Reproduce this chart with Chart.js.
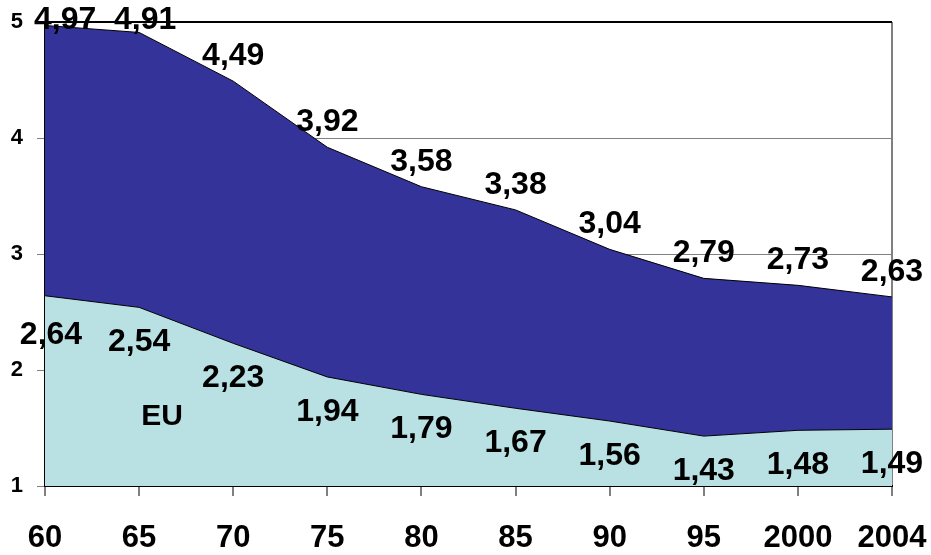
<!DOCTYPE html>
<html>
<head>
<meta charset="utf-8">
<script src="https://cdn.jsdelivr.net/npm/chart.js@4.4.1/dist/chart.umd.min.js"></script>
<style>
html,body{margin:0;padding:0;background:#fff;}
#wrap{width:931px;height:555px;position:relative;}
</style>
</head>
<body>
<div id="wrap"><canvas id="c"></canvas></div>
<script>
const categories = ['60','65','70','75','80','85','90','95','2000','2004'];
const upperValues = [4.97,4.91,4.49,3.92,3.58,3.38,3.04,2.79,2.73,2.63];
const euValues = [2.64,2.54,2.23,1.94,1.79,1.67,1.56,1.43,1.48,1.49];
const yTicks = [1,2,3,4,5];
const euLabel = 'EU';

const fmt = v => v.toFixed(2).replace('.', ',');
const FONT = '"Liberation Sans", Arial, sans-serif';

const labelPlugin = {
  id: 'valueLabels',
  afterDatasetsDraw(chart) {
    const ctx = chart.ctx;
    const xs = chart.scales.x, ys = chart.scales.y;
    ctx.save();
    ctx.fillStyle = '#000';
    ctx.font = 'bold 32px ' + FONT;
    ctx.textBaseline = 'middle';
    const n = categories.length;
    for (let i = 0; i < n; i++) {
      const x = xs.getPixelForValue(i);
      let yu = ys.getPixelForValue(upperValues[i]) - 25;
      if (yu < 20) yu = 20;
      ctx.textAlign = i === 0 ? 'left' : 'center';
      ctx.fillText(fmt(upperValues[i]), i === 0 ? x - 11 : x + (i === 1 ? 6 : 0), yu);
      const yl = ys.getPixelForValue(euValues[i]) + (i === 0 ? 39 : 35);
      ctx.textAlign = 'center';
      ctx.fillText(fmt(euValues[i]), i === 0 ? x + 6 : x, yl);
    }
    ctx.font = 'bold 30px ' + FONT;
    ctx.textAlign = 'center';
    const ex = (xs.getPixelForValue(1) + xs.getPixelForValue(2)) / 2 - 24;
    const ey = ys.getPixelForValue(1.6);
    ctx.fillText(euLabel, ex, ey);
    ctx.restore();
  }
};

new Chart(document.getElementById('c'), {
  type: 'line',
  data: {
    labels: categories,
    datasets: [
      {
        label: 'EU',
        data: euValues,
        fill: 'origin',
        backgroundColor: '#B9E0E3',
        borderColor: '#000',
        borderWidth: 1,
        pointRadius: 0,
        tension: 0,
        order: 0
      },
      {
        label: 'Upper',
        data: upperValues,
        fill: 'origin',
        backgroundColor: '#333399',
        borderColor: '#000',
        borderWidth: 1,
        pointRadius: 0,
        tension: 0,
        order: 1
      }
    ]
  },
  options: {
    responsive: true,
    maintainAspectRatio: false,
    animation: false,
    layout: { padding: { top: 22, right: 39, left: 0, bottom: 0 } },
    plugins: { legend: { display: false }, tooltip: { enabled: false } },
    scales: {
      x: {
        offset: false,
        afterFit(s) { s.height = 69; s.paddingRight = 0; s.paddingLeft = 0; },
        grid: {
          display: true,
          drawOnChartArea: true,
          color: c => (c.index === categories.length - 1 ? '#808080' : 'rgba(0,0,0,0)'),
          lineWidth: 2,
          tickColor: '#808080',
          tickLength: 10
        },
        border: { display: true, color: '#000', width: 2 },
        ticks: {
          color: '#000',
          font: { family: FONT, size: 31, weight: 'bold' },
          padding: 24,
          maxRotation: 0,
          autoSkip: false
        }
      },
      y: {
        min: 1,
        max: 5,
        afterFit(s) { s.width = 45; s.paddingTop = 0; s.paddingBottom = 0; },
        afterBuildTicks(s) { s.ticks = yTicks.map(v => ({ value: v })); },
        grid: {
          color: c => (c.tick && c.tick.value === 5 ? '#000' : '#808080'),
          lineWidth: c => (c.tick && c.tick.value === 5 ? 2 : 1),
          tickColor: '#808080',
          tickLength: 8
        },
        border: { display: true, color: '#000', width: 2 },
        ticks: {
          color: '#000',
          font: { family: FONT, size: 22, weight: 'bold' },
          padding: 14,
          callback: v => String(v)
        }
      }
    }
  },
  plugins: [labelPlugin]
});
</script>
</body>
</html>
